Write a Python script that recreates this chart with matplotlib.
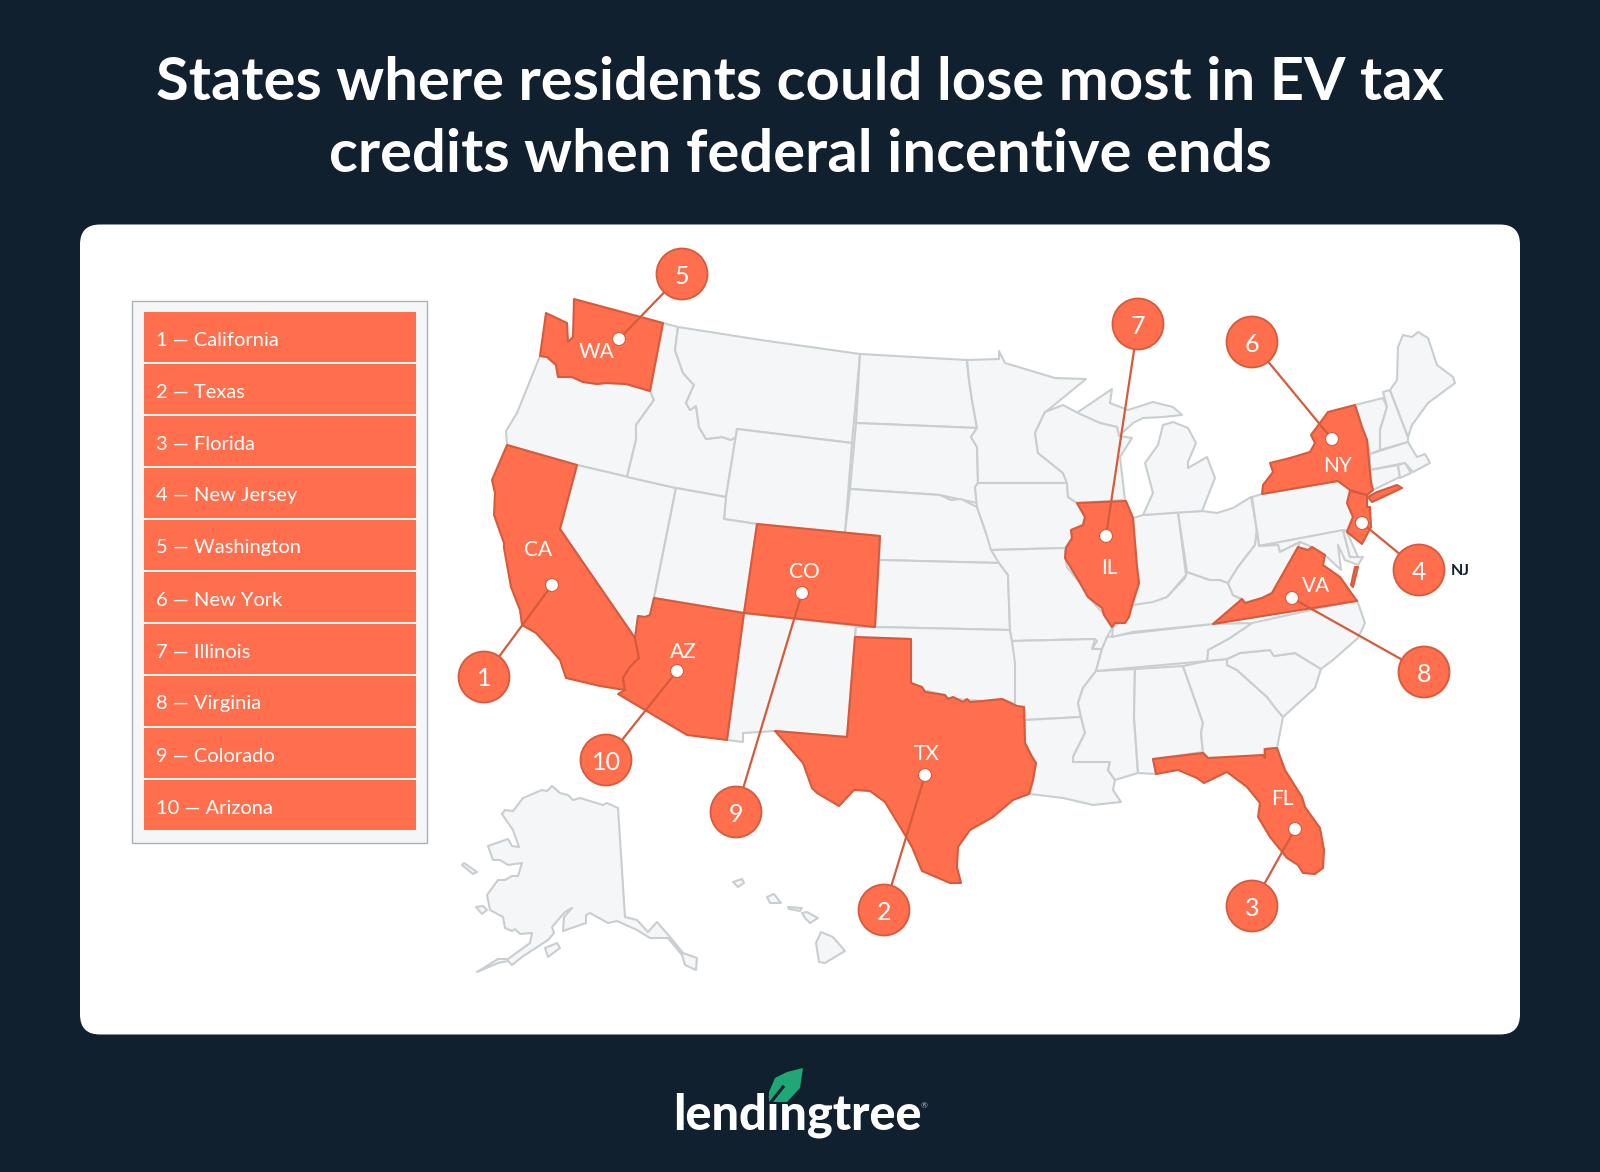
import matplotlib
matplotlib.use("Agg")
import matplotlib.pyplot as plt
from matplotlib.patches import Circle, FancyBboxPatch, Rectangle

# colours
NAVY = "#10202f"
ORANGE = "#ff6f4d"
ORANGE_EDGE = "#d65a3c"
LAND = "#f4f6f7"
LAND_EDGE = "#c9ced1"
GREEN = "#1fa875"

plt.rcParams["font.family"] = ["Lato", "DejaVu Sans"]

TITLE_LINES = [
    "States where residents could lose most in EV tax",
    "credits when federal incentive ends",
]
RANKED_STATES = ["California", "Texas", "Florida", "New Jersey", "Washington",
                 "New York", "Illinois", "Virginia", "Colorado", "Arizona"]

# state outlines in image pixels
WA = [(574,299),(663,323),(650,391),(626,384),(606,383),(597,384),(583,382),(572,377),(558,377),(556,365),(547,357),(540,356),(546,313),(567,323),(568,342),(573,337)]
OR = [(540,356),(517,413),(506,431),(507,445),(577,465),(627,477),(636,440),(636,425),(654,400),(650,391),(626,384),(606,383),(597,384),(583,382),(572,377),(558,377),(556,365),(547,357)]
CA = [(507,445),(577,465),(560,529),(635,638),(639,658),(630,667),(623,678),(625,690),(600,686),(566,678),(560,660),(547,645),(536,633),(522,625),(520,610),(511,587),(504,548),(504,543),(494,515),(495,493),(492,480)]
NV = [(577,465),(676,488),(654,598),(650,615),(645,617),(638,616),(635,638),(560,529)]
ID = [(663,323),(678,327),(675,350),(683,373),(694,385),(686,403),(690,410),(696,406),(699,427),(706,439),(722,437),(731,440),(736,437),(737,429),(726,497),(676,488),(627,477),(636,440),(636,425),(654,400),(650,391)]
MT = [(678,327),(761,340),(860,354),(852,443),(737,429),(736,437),(731,440),(722,437),(706,439),(699,427),(696,406),(690,410),(686,403),(694,385),(683,373),(675,350)]
WY = [(737,429),(852,443),(845,533),(757,524),(724,519),(726,497)]
UT = [(676,488),(726,497),(724,519),(757,524),(744,613),(654,598)]
AZ = [(654,598),(744,613),(727,740),(687,735),(618,694),(625,690),(623,678),(630,667),(639,658),(635,638),(638,616),(645,617),(650,615)]
CO = [(757,524),(880,536),(875,627),(744,613)]
NM = [(744,613),(856,626),(855,637),(847,737),(775,731),(743,733),(743,742),(727,740)]
ND = [(860,354),(967,360),(969,380),(972,400),(977,428),(856,423)]
SD = [(856,423),(977,428),(971,437),(977,447),(978,483),(975,487),(977,503),(940,495),(850,489)]
NE = [(850,489),(940,495),(951,500),(961,499),(977,507),(986,533),(999,563),(879,560),(880,536),(845,533)]
KS = [(879,560),(999,563),(1008,575),(1010,630),(875,627)]
OK = [(875,627),(1010,630),(1012,641),(1016,663),(1015,704),(1002,699),(983,701),(967,700),(947,698),(945,695),(923,690),(911,683),(911,639),(855,637),(856,627)]
TX = [(855,637),(911,639),(911,683),(922,687),(925,692),(945,695),(948,699),(953,697),(963,702),(967,699),(970,702),(983,701),(1002,699),(1017,706),(1024,707),(1025,743),(1032,757),(1036,763),(1033,780),(1029,794),(1013,800),(993,817),(970,830),(958,847),(957,867),(961,883),(950,883),(922,871),(912,847),(902,830),(885,802),(870,791),(854,790),(839,806),(817,793),(812,788),(803,763),(775,731),(847,737)]
MN = [(967,360),(999,359),(999,351),(1005,363),(1055,378),(1086,379),(1048,410),(1045,412),(1035,433),(1038,453),(1063,473),(1067,483),(978,483),(977,447),(971,437),(977,428),(972,400),(969,380)]
IA = [(978,483),(1067,483),(1068,497),(1077,503),(1085,517),(1083,525),(1071,530),(1072,538),(1065,548),(991,550),(986,533),(977,507),(975,487)]
MO = [(991,550),(1065,548),(1065,557),(1067,567),(1080,583),(1088,597),(1103,613),(1112,628),(1107,637),(1102,649),(1092,649),(1097,641),(1095,639),(1012,641),(1010,630),(1008,575),(999,563)]
AR = [(1012,641),(1095,639),(1092,649),(1102,649),(1096,671),(1083,688),(1078,703),(1081,717),(1025,720),(1024,707),(1015,706),(1015,663)]
LA = [(1025,720),(1081,717),(1085,733),(1073,757),(1073,762),(1110,762),(1108,770),(1115,780),(1113,790),(1121,802),(1093,805),(1063,798),(1030,794),(1033,780),(1036,763),(1025,743)]
MS = [(1096,671),(1135,669),(1134,717),(1138,773),(1115,780),(1108,770),(1110,762),(1073,762),(1073,757),(1085,733),(1081,717),(1078,703),(1083,688)]
AL = [(1135,669),(1183,666),(1203,723),(1201,733),(1203,752),(1153,759),(1156,774),(1138,773),(1134,717)]
GA = [(1183,666),(1207,661),(1227,659),(1227,665),(1237,670),(1267,697),(1277,710),(1283,717),(1277,748),(1264,749),(1264,758),(1208,758),(1203,752),(1201,733),(1203,723)]
FL = [(1153,759),(1203,753),(1208,758),(1263,755),(1265,758),(1265,749),(1277,748),(1285,770),(1302,797),(1305,807),(1320,828),(1324,850),(1323,868),(1315,874),(1303,873),(1298,865),(1287,858),(1270,837),(1258,817),(1260,803),(1247,787),(1227,772),(1204,783),(1197,778),(1178,770),(1156,774)]
SC = [(1227,659),(1240,653),(1270,650),(1274,656),(1295,653),(1321,669),(1315,688),(1283,717),(1277,710),(1267,697),(1237,670),(1227,665)]
NC = [(1207,661),(1208,650),(1230,638),(1252,623),(1357,600),(1365,623),(1358,638),(1333,660),(1321,669),(1295,653),(1274,656),(1270,650),(1240,653),(1227,659)]
TN = [(1107,637),(1133,633),(1213,624),(1252,623),(1230,638),(1208,650),(1207,661),(1096,671),(1102,649)]
KY = [(1112,637),(1133,632),(1213,624),(1242,600),(1233,595),(1228,583),(1220,580),(1210,580),(1187,572),(1185,578),(1167,597),(1133,605),(1128,617),(1113,627)]
IL = [(1077,503),(1126,501),(1133,518),(1137,567),(1139,583),(1132,605),(1129,617),(1125,623),(1115,623),(1112,627),(1104,615),(1102,608),(1088,597),(1080,583),(1065,558),(1066,548),(1072,538),(1071,530),(1083,525),(1085,517)]
IN = [(1133,518),(1143,515),(1178,512),(1186,575),(1167,597),(1153,602),(1133,605),(1139,583),(1137,567)]
OH = [(1178,512),(1202,511),(1217,513),(1233,508),(1251,497),(1257,530),(1255,545),(1238,567),(1228,583),(1220,580),(1210,580),(1187,572)]
MI_LOWER = [(1202,511),(1215,478),(1207,457),(1188,468),(1188,462),(1196,443),(1188,428),(1173,422),(1163,425),(1158,445),(1145,463),(1153,493),(1143,515)]
MI_UPPER = [(1078,412),(1112,389),(1110,403),(1128,410),(1153,402),(1173,407),(1182,415),(1163,417),(1143,418),(1133,423),(1119,436),(1117,427),(1100,423),(1078,415)]
WI = [(1045,412),(1063,405),(1078,413),(1100,423),(1117,427),(1119,436),(1132,438),(1120,457),(1125,500),(1077,503),(1068,497),(1067,483),(1063,473),(1038,453),(1035,433)]
PA = [(1252,497),(1262,494),(1338,481),(1350,490),(1347,503),(1353,517),(1347,530),(1259,546)]
NY = [(1262,494),(1263,485),(1273,472),(1270,463),(1290,458),(1310,452),(1315,443),(1311,435),(1328,412),(1355,405),(1362,427),(1367,440),(1371,483),(1373,490),(1367,495),(1350,490),(1338,481)]
LONG_ISLAND = [(1368,497),(1372,502),(1383,497),(1402,488),(1397,485),(1377,492)]
NJ = [(1350,491),(1367,495),(1367,507),(1370,507),(1371,527),(1362,544),(1347,532),(1353,517),(1347,503)]
MD = [(1259,546),(1343,530),(1350,557),(1363,557),(1358,565),(1345,560),(1338,545),(1341,570),(1325,555),(1312,547),(1300,542),(1280,552),(1278,545)]
DE = [(1343,530),(1347,532),(1358,557),(1350,557)]
VA = [(1213,624),(1242,599),(1245,603),(1262,598),(1272,593),(1285,570),(1298,547),(1308,550),(1312,547),(1325,555),(1323,565),(1340,577),(1357,601)]
VA_SHORE = [(1355,567),(1358,567),(1353,587),(1351,585)]
WV = [(1259,546),(1278,545),(1280,552),(1300,542),(1298,547),(1285,570),(1272,593),(1262,598),(1245,603),(1242,599),(1233,595),(1228,583),(1238,567),(1255,545),(1257,530)]
VT = [(1355,405),(1383,398),(1387,407),(1380,430),(1380,450),(1370,454),(1367,440),(1362,427)]
NH = [(1383,392),(1390,390),(1408,437),(1408,442),(1380,450),(1380,430),(1387,407)]
ME = [(1390,390),(1397,380),(1398,347),(1403,335),(1412,337),(1418,332),(1428,338),(1437,365),(1453,377),(1455,383),(1428,403),(1412,425),(1408,437)]
MA = [(1370,454),(1408,442),(1417,457),(1425,454),(1430,463),(1413,472),(1405,463),(1370,470)]
CT = [(1370,470),(1398,465),(1400,477),(1373,490)]
RI = [(1398,465),(1405,463),(1411,473),(1400,478)]
AK = [(552,786),(560,793),(568,795),(573,800),(580,798),(603,805),(607,803),(618,808),(625,917),(637,920),(648,932),(657,922),(670,937),(683,953),(697,958),(696,970),(685,965),(682,955),(668,938),(650,938),(637,930),(617,921),(608,923),(590,913),(586,915),(586,923),(563,931),(564,917),(572,908),(565,912),(552,927),(554,933),(548,940),(522,957),(512,965),(508,961),(498,963),(477,972),(498,959),(508,959),(530,943),(532,933),(520,934),(515,929),(512,931),(505,928),(503,917),(490,910),(487,895),(498,880),(505,880),(512,876),(518,876),(522,863),(508,865),(500,860),(493,860),(488,846),(508,839),(512,846),(519,847),(513,830),(502,814),(505,810),(513,811),(523,798),(542,790),(547,791)]
AK_KODIAK = [(545,948),(557,943),(560,948),(548,957)]
AK_LAWRENCE = [(462,865),(464,863),(477,872),(473,874)]
AK_NUNIVAK = [(476,907),(483,906),(487,910),(482,914)]
HI_KAUAI = [(733,882),(742,879),(744,883),(738,887)]
HI_OAHU = [(767,897),(774,894),(781,903),(770,903)]
HI_MOLOKAI = [(788,907),(802,908),(800,911),(789,909)]
HI_MAUI = [(802,913),(807,912),(818,918),(810,923),(805,918)]
HI_BIG = [(821,932),(833,937),(845,951),(825,963),(819,962),(816,943)]

PLAIN_STATES = [OR, NV, ID, MT, WY, UT, NM, ND, SD, NE, KS, OK, MN, IA, MO, AR, LA, MS, AL, GA, SC, NC,
                TN, KY, IN, OH, MI_LOWER, MI_UPPER, WI, PA, MD, DE, WV, VT, NH, ME, MA, CT, RI, AK,
                AK_KODIAK, AK_LAWRENCE, AK_NUNIVAK, HI_KAUAI, HI_OAHU, HI_MOLOKAI, HI_MAUI, HI_BIG]
TOP_STATES = [CA, TX, FL, NJ, WA, NY, LONG_ISLAND, IL, VA, VA_SHORE, CO, AZ]

# callouts: rank, centre of the numbered circle, dot on the state
CALLOUT_RANKS = [1, 2, 3, 4, 5, 6, 7, 8, 9, 10]
CALLOUT_CIRCLES = [(484,677),(884,910),(1252,906),(1419,570),(682,274),(1252,342),(1138,324),(1424,672),(736,812),(606,760)]
CALLOUT_DOTS = [(552,585),(925,775),(1295,829),(1362,523),(619,339),(1332,439),(1106,536),(1292,598),(802,593),(677,671)]

STATE_ABBRS = ["CA", "TX", "FL", "WA", "NY", "IL", "VA", "CO", "AZ"]
STATE_ABBR_POS = [(538,550),(927,754),(1282,799),(597,352),(1338,466),(1109,568),(1316,586),(804,572),(683,652)]

LEAF = [(803,1068),(800,1088),(787,1102),(769,1102),(769,1092),(775,1078),(787,1072)]
LEAF_VEIN = [(771,1102),(783,1087)]


def draw_outline(ax, points, face, edge):
    xs, ys = zip(*points)
    ax.fill(xs, ys, facecolor=face, edgecolor=edge, linewidth=1.5, joinstyle="round", zorder=3)


fig = plt.figure(figsize=(16, 11.72), dpi=100, facecolor=NAVY)
ax = fig.add_axes([0, 0, 1, 1])
ax.set_xlim(0, 1600)
ax.set_ylim(1172, 0)
ax.axis("off")

ax.text(800, 83, TITLE_LINES[0], color="white", fontsize=43, fontweight="bold", ha="center", va="center")
ax.text(800, 155, TITLE_LINES[1], color="white", fontsize=43, fontweight="bold", ha="center", va="center")

# white card
ax.add_patch(FancyBboxPatch((80, 224.5), 1440, 810, boxstyle="round,pad=0,rounding_size=20",
                            facecolor="white", edgecolor="none", zorder=1))

# ranking list
ax.add_patch(Rectangle((132, 301), 295, 542, facecolor=LAND, edgecolor="#aeb2b4", linewidth=1, zorder=2))
for i, name in enumerate(RANKED_STATES):
    top = 312 + i * 52
    ax.add_patch(Rectangle((144, top), 272, 50, facecolor=ORANGE, edgecolor="none", zorder=3))
    ax.text(156, top + 28, f"{i + 1} — {name}", color="white", fontsize=14.5, ha="left", va="center", zorder=4)

# map
for points in PLAIN_STATES:
    draw_outline(ax, points, LAND, LAND_EDGE)
for points in TOP_STATES:
    draw_outline(ax, points, ORANGE, ORANGE_EDGE)

for abbr, (x, y) in zip(STATE_ABBRS, STATE_ABBR_POS):
    ax.text(x, y, abbr, color="white", fontsize=15, ha="center", va="center", zorder=6)
ax.text(1460, 571, "NJ", color=NAVY, fontsize=11.5, fontweight="bold", ha="center", va="center", zorder=6)

# numbered callouts
for rank, (cx, cy), (dx, dy) in zip(CALLOUT_RANKS, CALLOUT_CIRCLES, CALLOUT_DOTS):
    ax.plot([cx, dx], [cy, dy], color=ORANGE_EDGE, linewidth=1.6, zorder=7)
    ax.add_patch(Circle((dx, dy), 6.5, facecolor="white", edgecolor=ORANGE_EDGE, linewidth=0.8, zorder=8))
    ax.add_patch(Circle((cx, cy), 25.5, facecolor=ORANGE, edgecolor=ORANGE_EDGE, linewidth=1.3, zorder=8))
    ax.text(cx, cy + 2, str(rank), color="white", fontsize=18, ha="center", va="center", zorder=9)

# logo
ax.text(797, 1115, "lendingtree", color="white", fontsize=35, fontweight=900, ha="center", va="center", zorder=3)
ax.text(924, 1106, "®", color="#b8bec4", fontsize=6, ha="center", va="center", zorder=3)
leaf_x, leaf_y = zip(*LEAF)
ax.fill(leaf_x, leaf_y, facecolor=GREEN, edgecolor="none", zorder=4)
vein_x, vein_y = zip(*LEAF_VEIN)
ax.plot(vein_x, vein_y, color=NAVY, linewidth=2.2, zorder=5)

fig.savefig("out.png", dpi=100, facecolor=NAVY)
